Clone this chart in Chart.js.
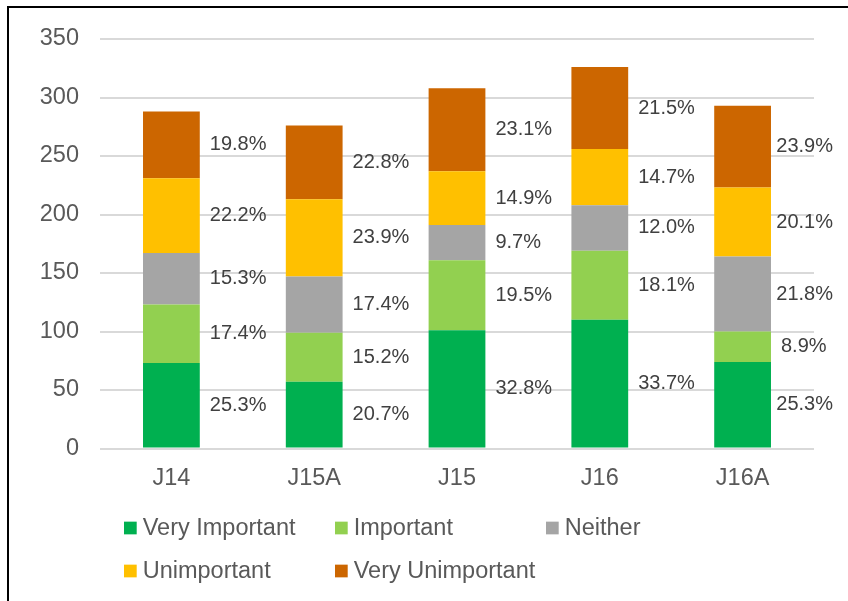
<!DOCTYPE html>
<html>
<head>
<meta charset="utf-8">
<script src="https://cdn.jsdelivr.net/npm/chart.js@4/dist/chart.umd.min.js"></script>
<style>
  html, body { margin: 0; padding: 0; background: #fff; }
  #wrap { position: relative; width: 848px; height: 601px; }
  #frame { position: absolute; left: 7px; top: 6px; width: 841px; height: 595px;
           border-left: 2px solid #000; border-top: 2px solid #000; box-sizing: border-box; pointer-events: none; }
</style>
</head>
<body>
<div id="wrap">
  <canvas id="c" width="848" height="601"></canvas>
  <div id="frame"></div>
</div>
<script>
const categories = ['J14', 'J15A', 'J15', 'J16', 'J16A'];
const seriesNames = ['Very Important', 'Important', 'Neither', 'Unimportant', 'Very Unimportant'];
const colors = ['#00B050', '#92D050', '#A5A5A5', '#FFC000', '#CC6600'];

const veryImportant   = [73, 57, 101, 110, 74];
const important       = [50, 42, 60, 59, 26];
const neither         = [44, 48, 30, 39, 64];
const unimportant     = [64, 66, 46, 48, 59];
const veryUnimportant = [57, 63, 71, 70, 70];

const pctVeryImportant   = ['25.3%', '20.7%', '32.8%', '33.7%', '25.3%'];
const pctImportant       = ['17.4%', '15.2%', '19.5%', '18.1%', '8.9%'];
const pctNeither         = ['15.3%', '17.4%', '9.7%', '12.0%', '21.8%'];
const pctUnimportant     = ['22.2%', '23.9%', '14.9%', '14.7%', '20.1%'];
const pctVeryUnimportant = ['19.8%', '22.8%', '23.1%', '21.5%', '23.9%'];

const yTicks = [0, 50, 100, 150, 200, 250, 300, 350];

const seriesValues = [veryImportant, important, neither, unimportant, veryUnimportant];
const seriesPcts = [pctVeryImportant, pctImportant, pctNeither, pctUnimportant, pctVeryUnimportant];

const FONT = "'Liberation Sans', Arial, sans-serif";

const pctLabels = {
  id: 'pctLabels',
  afterDatasetsDraw(chart) {
    const ctx = chart.ctx;
    ctx.save();
    ctx.font = '20px ' + FONT;
    ctx.fillStyle = '#404040';
    ctx.textBaseline = 'middle';
    ctx.textAlign = 'left';
    const limit = chart.width - 15;
    chart.data.datasets.forEach((ds, di) => {
      const meta = chart.getDatasetMeta(di);
      meta.data.forEach((bar, i) => {
        const txt = ds.pctLabels[i];
        const w = ctx.measureText(txt).width;
        const right = bar.x + bar.width / 2;
        const x = Math.min(right + 10, limit - w);
        const y = (bar.y + bar.base) / 2;
        ctx.fillText(txt, x, y);
      });
    });
    ctx.restore();
  }
};

const gridLegend = {
  id: 'gridLegend',
  afterDraw(chart) {
    const ctx = chart.ctx;
    ctx.save();
    ctx.font = '23.5px ' + FONT;
    ctx.textBaseline = 'middle';
    ctx.textAlign = 'left';
    const x0 = 124, colW = 211, y0 = 528, rowH = 43, box = 12.7;
    chart.data.datasets.forEach((ds, i) => {
      const col = i % 3, row = Math.floor(i / 3);
      const x = x0 + col * colW, y = y0 + row * rowH;
      ctx.fillStyle = ds.backgroundColor;
      ctx.fillRect(x, y - box / 2, box, box);
      ctx.fillStyle = '#595959';
      ctx.fillText(ds.label, x + box + 6, y + 1);
    });
    ctx.restore();
  }
};

new Chart(document.getElementById('c'), {
  type: 'bar',
  data: {
    labels: categories,
    datasets: seriesNames.map((name, i) => ({
      label: name,
      data: seriesValues[i],
      pctLabels: seriesPcts[i],
      backgroundColor: colors[i],
      borderWidth: 0,
      categoryPercentage: 0.8,
      barPercentage: 0.497
    }))
  },
  options: {
    responsive: false,
    animation: false,
    layout: { padding: { top: 39, right: 34, left: 0, bottom: 0 } },
    plugins: { legend: { display: false }, tooltip: { enabled: false } },
    scales: {
      x: {
        stacked: true,
        grid: { display: false, drawTicks: false },
        border: { display: false },
        ticks: { color: '#595959', font: { family: FONT, size: 23.5 }, padding: 16 },
        afterFit(scale) { scale.height = 601 - 448.5; }
      },
      y: {
        stacked: true,
        min: 0,
        max: 350,
        afterBuildTicks(scale) { scale.ticks = yTicks.map(v => ({ value: v })); },
        grid: { color: '#D9D9D9', lineWidth: 2, drawTicks: false },
        border: { display: false },
        ticks: { color: '#595959', font: { family: FONT, size: 23.5 }, padding: 21 },
        afterFit(scale) { scale.width = 100; }
      }
    }
  },
  plugins: [pctLabels, gridLegend]
});
</script>
</body>
</html>
